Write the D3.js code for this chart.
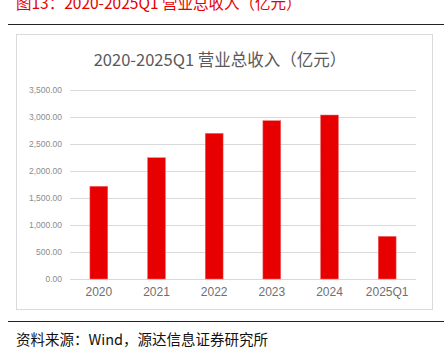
<!DOCTYPE html>
<html><head><meta charset="utf-8">
<script src="https://cdn.jsdelivr.net/npm/d3@7"></script>
<style>html,body{margin:0;padding:0;background:#fff;}svg{display:block;}</style>
</head><body>
<svg id="c" width="444" height="350"></svg>
<script>
const categories = ["2020","2021","2022","2023","2024","2025Q1"];
const revenue = [1717, 2246, 2698, 2932, 3037, 790];
const yTicks = [0,500,1000,1500,2000,2500,3000,3500];
const figTitle = "图13：2020-2025Q1 营业总收入（亿元）";
const chartTitle = "2020-2025Q1 营业总收入（亿元）";
const sourceText = "资料来源：Wind，源达信息证券研究所";

const svg = d3.select("#c");
const font = "'Noto Sans CJK SC','Microsoft YaHei',sans-serif";

svg.append("text").attr("x",16).attr("y",9).attr("font-family",font).attr("font-size",15.5)
  .attr("fill","#e60000").text(figTitle);
svg.append("line").attr("x1",8).attr("x2",444).attr("y1",24.5).attr("y2",24.5).attr("stroke","#222").attr("stroke-width",1);
svg.append("rect").attr("x",16.5).attr("y",34.5).attr("width",416).attr("height",275).attr("fill","#fff").attr("stroke","#d9d9d9");
svg.append("line").attr("x1",8).attr("x2",444).attr("y1",321.5).attr("y2",321.5).attr("stroke","#222").attr("stroke-width",1);
svg.append("text").attr("x",16).attr("y",345).attr("font-family",font).attr("font-size",14.5)
  .attr("fill","#111").text(sourceText);

svg.append("text").attr("x",220).attr("y",66).attr("text-anchor","middle").attr("font-family",font)
  .attr("font-size",16.5).attr("fill","#595959").text(chartTitle);

const x = d3.scaleBand().domain(categories).range([70,416]).paddingInner(0.69).paddingOuter(0.345);
const y = d3.scaleLinear().domain([0,3500]).range([279,90]);

const yAxis = d3.axisLeft(y).tickValues(yTicks).tickSize(-(416-70)).tickPadding(8)
  .tickFormat(d3.format(",.2f"));
const gy = svg.append("g").attr("transform","translate(70,0)").call(yAxis);
gy.select(".domain").remove();
gy.selectAll(".tick line").attr("stroke","#d9d9d9");
gy.selectAll(".tick text").attr("fill","#8c8c8c").attr("font-size",8.5).attr("font-family","'Liberation Sans',Arial,sans-serif");

svg.append("g").selectAll("rect").data(categories).join("rect")
  .attr("x",d=>x(d)).attr("width",x.bandwidth())
  .attr("y",(d,i)=>y(revenue[i])).attr("height",(d,i)=>y(0)-y(revenue[i]))
  .attr("fill","#e80000").attr("stroke","#f07070").attr("stroke-width",0.5);

const xAxis = d3.axisBottom(x).tickSize(0).tickPadding(8);
const gx = svg.append("g").attr("transform","translate(0,279)").call(xAxis);
gx.select(".domain").remove();
gx.selectAll(".tick text").attr("fill","#6f6f6f").attr("font-size",12).attr("font-family","'Liberation Sans',Arial,sans-serif");
</script>
</body></html>
